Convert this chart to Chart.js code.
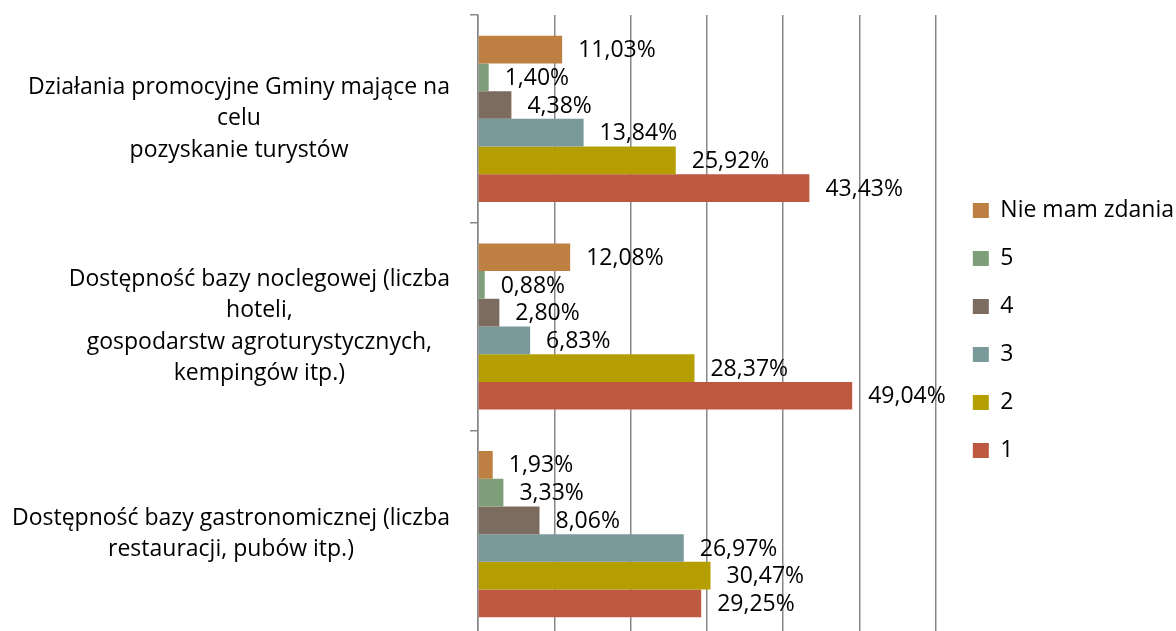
<!DOCTYPE html>
<html>
<head>
<meta charset="utf-8">
<script src="https://cdn.jsdelivr.net/npm/chart.js@4.4.1/dist/chart.umd.min.js"></script>
<style>
  html, body { margin: 0; padding: 0; background: #fff; overflow: hidden; }
  #wrap { width: 1176px; height: 660px; }
</style>
</head>
<body>
<div id="wrap"><canvas id="surveyChart" width="1176" height="660"></canvas></div>
<script>
// Data
const categories = [
  ['Działania promocyjne Gminy mające na', 'celu', 'pozyskanie turystów'],
  ['Dostępność bazy noclegowej (liczba', 'hoteli,', 'gospodarstw agroturystycznych,', 'kempingów itp.)'],
  ['Dostępność bazy gastronomicznej (liczba', 'restauracji, pubów itp.)']
];
const seriesNames = ['Nie mam zdania', '5', '4', '3', '2', '1'];
const nieMamZdania = [11.03, 12.08, 1.93];
const ocena5 = [1.40, 0.88, 3.33];
const ocena4 = [4.38, 2.80, 8.06];
const ocena3 = [13.84, 6.83, 26.97];
const ocena2 = [25.92, 28.37, 30.47];
const ocena1 = [43.43, 49.04, 29.25];
const xTicks = [0, 10, 20, 30, 40, 50, 60];

const seriesValues = [nieMamZdania, ocena5, ocena4, ocena3, ocena2, ocena1];
const seriesColors = ['#BE8042', '#7F9F7B', '#7C6B5F', '#7A999A', '#B59F00', '#BC5940'];

const fontFamily = '"Open Sans", "Noto Sans", sans-serif';
const fontSize = 23;
const gridColor = '#878787';

// Category labels: each block centered on its own widest line
const categoryLabels = {
  id: 'categoryLabels',
  afterDraw(chart) {
    const ctx = chart.ctx;
    const yScale = chart.scales.y;
    const lineHeight = 31.5;
    ctx.save();
    ctx.font = fontSize + 'px ' + fontFamily;
    ctx.fillStyle = '#000';
    ctx.textAlign = 'center';
    ctx.textBaseline = 'middle';
    categories.forEach((lines, i) => {
      const yc = yScale.getPixelForValue(i);
      const blockW = Math.max(...lines.map(l => ctx.measureText(l).width));
      const cx = yScale.right - 28 - blockW / 2;
      lines.forEach((line, j) => {
        ctx.fillText(line, cx, yc + (j - (lines.length - 1) / 2) * lineHeight);
      });
    });
    ctx.restore();
  }
};

// Value labels right of each bar
const valueLabels = {
  id: 'valueLabels',
  afterDatasetsDraw(chart) {
    const ctx = chart.ctx;
    ctx.save();
    ctx.font = fontSize + 'px ' + fontFamily;
    ctx.fillStyle = '#000';
    ctx.textAlign = 'left';
    ctx.textBaseline = 'middle';
    chart.data.datasets.forEach((ds, di) => {
      chart.getDatasetMeta(di).data.forEach((bar, i) => {
        const txt = ds.data[i].toFixed(2).replace('.', ',') + '%';
        ctx.fillText(txt, bar.x + 16, bar.y + 1);
      });
    });
    ctx.restore();
  }
};

const ctx = document.getElementById('surveyChart').getContext('2d');
new Chart(ctx, {
  type: 'bar',
  data: {
    labels: categories,
    datasets: seriesNames.map((name, i) => ({
      label: name,
      data: seriesValues[i],
      backgroundColor: seriesColors[i],
      borderWidth: 0,
      categoryPercentage: 0.8,
      barPercentage: 1.0
    }))
  },
  options: {
    indexAxis: 'y',
    responsive: false,
    animation: false,
    layout: { padding: { top: 15, right: -8, bottom: 14, left: 0 } },
    scales: {
      x: {
        min: 0,
        max: 60,
        afterBuildTicks: (scale) => { scale.ticks = xTicks.map(v => ({ value: v })); },
        ticks: { display: false },
        grid: { color: gridColor, lineWidth: 1.5, tickLength: 8 },
        border: { display: false }
      },
      y: {
        ticks: { display: false },
        grid: { drawOnChartArea: false, color: gridColor, lineWidth: 1.5, tickLength: 8 },
        border: { color: gridColor, width: 1.5 },
        afterFit: (scale) => { scale.width = 478; }
      },
      yGap: {
        type: 'linear',
        axis: 'y',
        position: 'right',
        display: true,
        ticks: { display: false },
        grid: { display: false },
        border: { display: false },
        afterFit: (scale) => { scale.width = 12; }
      }
    },
    plugins: {
      legend: {
        position: 'right',
        maxWidth: 300,
        labels: {
          color: '#000',
          boxWidth: 16,
          boxHeight: 15,
          padding: 25,
          font: { family: fontFamily, size: fontSize }
        }
      },
      tooltip: { enabled: false }
    }
  },
  plugins: [categoryLabels, valueLabels]
});
</script>
</body>
</html>
